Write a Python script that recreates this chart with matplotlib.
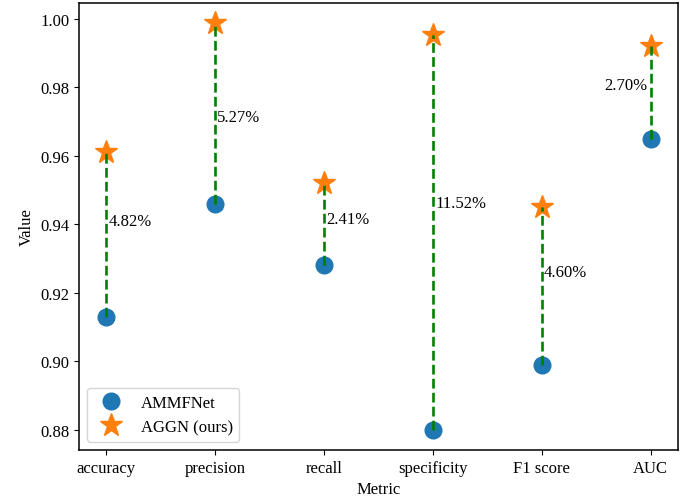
import matplotlib
matplotlib.use("Agg")
import matplotlib.pyplot as plt

plt.rcParams['font.family'] = ['Liberation Serif', 'DejaVu Serif']
plt.rcParams['font.size'] = 12

metrics = ['accuracy', 'precision', 'recall', 'specificity', 'F1 score', 'AUC']
ammfnet = [0.9130, 0.9460, 0.9280, 0.8800, 0.8990, 0.9650]
gains = [0.0482, 0.0527, 0.0241, 0.1152, 0.0460, 0.0270]
aggn = [a + g for a, g in zip(ammfnet, gains)]

# where the gain labels sit on each connector
label_y = [0.9410, 0.9712, 0.9415, 0.9463, 0.9262, 0.9808]

fig = plt.figure(figsize=(6.93, 5.02), dpi=100)
ax = fig.add_subplot(111)
fig.subplots_adjust(left=0.114, right=0.978, top=0.992, bottom=0.1016)

x = list(range(len(metrics)))
ax.plot(x, ammfnet, 'o', color='#1f77b4', markersize=12, label='AMMFNet', zorder=2)
ax.plot(x, aggn, '*', color='#ff7f0e', markersize=17, label='AGGN (ours)', zorder=2)

for i in x:
    ax.plot([i, i], [ammfnet[i], aggn[i]], '--', color='green', linewidth=1.9, zorder=3)
    txt = '%.2f%%' % (gains[i] * 100)
    if i == len(metrics) - 1:
        ax.text(i - 0.03, label_y[i], txt, ha='right', va='center')
    else:
        ax.text(i + 0.02, label_y[i], txt, ha='left', va='center')

ax.set_xticks(x)
ax.set_xticklabels(metrics)
ax.set_yticks([0.88, 0.90, 0.92, 0.94, 0.96, 0.98, 1.00])
ax.set_yticklabels(['%.2f' % v for v in [0.88, 0.90, 0.92, 0.94, 0.96, 0.98, 1.00]])
ax.set_xlabel('Metric')
ax.set_ylabel('Value')
for s in ax.spines.values():
    s.set_linewidth(1.1)
ax.legend(loc='lower left', markerscale=1.0)

plt.savefig('out.png', dpi=100)
